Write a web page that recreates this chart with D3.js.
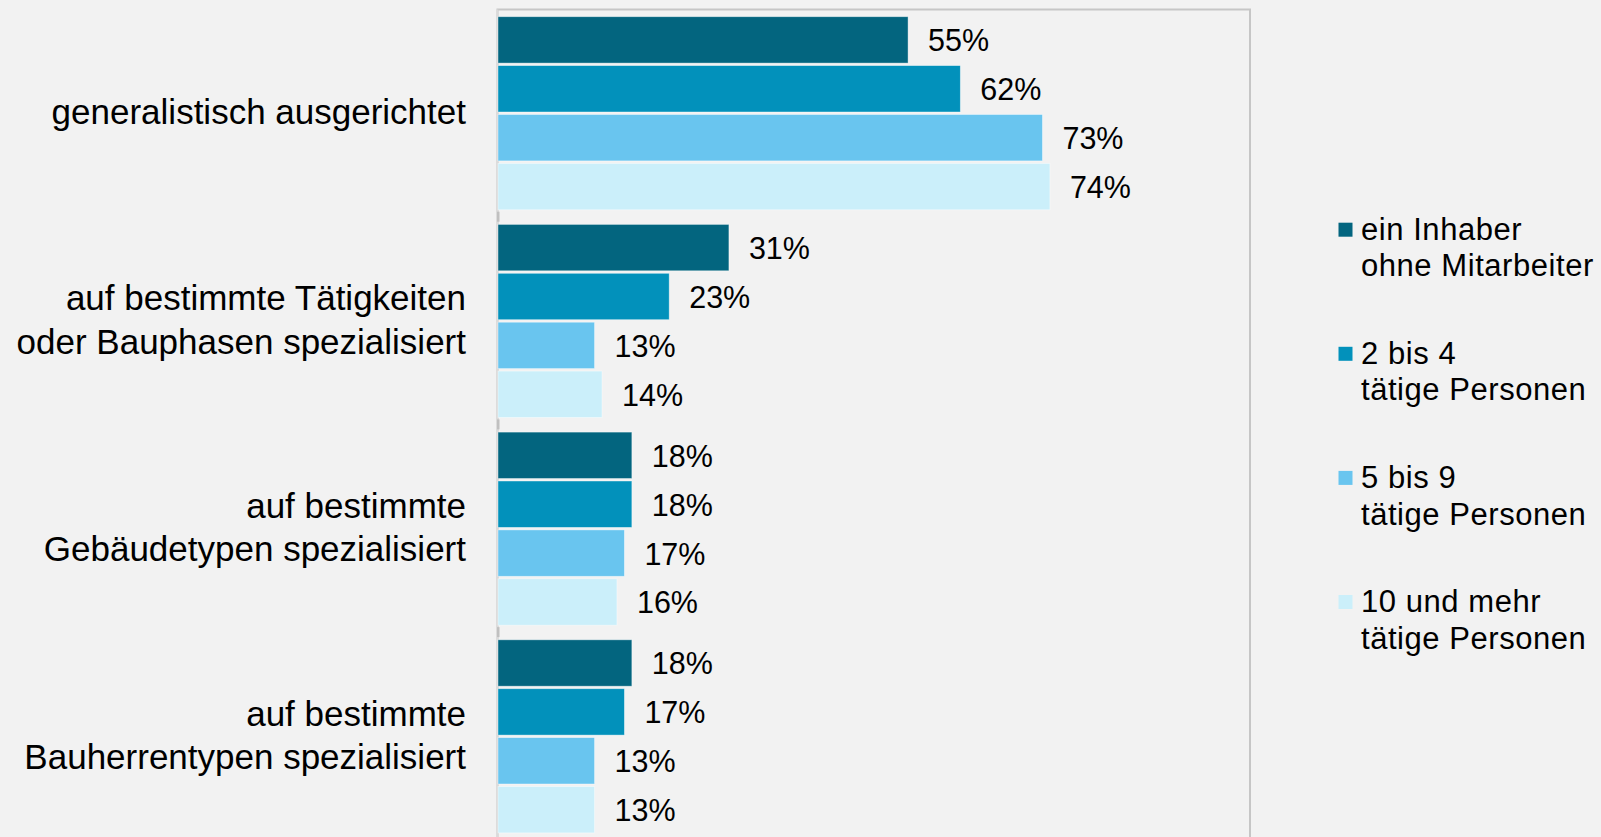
<!DOCTYPE html>
<html>
<head>
<meta charset="utf-8">
<script src="https://cdn.jsdelivr.net/npm/d3@7"></script>
<style>
  html, body { margin: 0; padding: 0; background: #f2f2f2; }
  svg { display: block; font-family: "Liberation Sans", Arial, sans-serif; }
</style>
</head>
<body>
<svg id="chart" width="1601" height="837"></svg>
<script>
// ---- data ----
const categories = [
  "generalistisch ausgerichtet",
  "auf bestimmte Tätigkeiten\noder Bauphasen spezialisiert",
  "auf bestimmte\nGebäudetypen spezialisiert",
  "auf bestimmte\nBauherrentypen spezialisiert"
];
const seriesNames = [
  "ein Inhaber\nohne Mitarbeiter",
  "2 bis 4\ntätige Personen",
  "5 bis 9\ntätige Personen",
  "10 und mehr\ntätige Personen"
];
const einInhaber   = [55, 31, 18, 18];
const zweiBisVier  = [62, 23, 18, 17];
const fuenfBisNeun = [73, 13, 17, 13];
const zehnUndMehr  = [74, 14, 16, 13];
const seriesValues = [einInhaber, zweiBisVier, fuenfBisNeun, zehnUndMehr];
const colors = ["#03657f", "#0291bb", "#69c5ef", "#cbeffa"];

// ---- layout ----
const svg = d3.select("#chart");
const plotLeft = 497.5, plotTop = 9.5, plotRight = 1250, plotBottom = 840;

const x = d3.scaleLinear().domain([0, 100]).range([plotLeft, 1244]);
const y0 = d3.scaleBand().domain(d3.range(categories.length)).range([9, 839.8]).paddingInner(0).paddingOuter(0);
const y1 = d3.scaleBand().domain(d3.range(seriesNames.length)).range([7.7, 200.8]).paddingInner(0.051).paddingOuter(0);

// plot frame
svg.append("rect")
  .attr("x", plotLeft).attr("y", plotTop)
  .attr("width", plotRight - plotLeft).attr("height", plotBottom - plotTop + 10)
  .attr("fill", "none").attr("stroke", "#c6c6c6").attr("stroke-width", 2);
// left axis line (lighter)
svg.append("line")
  .attr("x1", plotLeft).attr("x2", plotLeft)
  .attr("y1", plotTop).attr("y2", 837)
  .attr("stroke", "#dadada").attr("stroke-width", 1.5);

// axis tick marks at category boundaries
const boundaries = d3.range(1, categories.length).map(i => y0(i));
svg.selectAll("rect.tick").data(boundaries).join("rect")
  .attr("class", "tick")
  .attr("x", plotLeft - 0.5).attr("width", 2.5)
  .attr("y", d => d - 5).attr("height", 10)
  .attr("fill", "#c0c0c0");

// bars
const groups = svg.selectAll("g.cat").data(categories.map((c, i) => i)).join("g")
  .attr("class", "cat")
  .attr("transform", i => `translate(0,${y0(i)})`);

groups.each(function(ci) {
  const g = d3.select(this);
  const rows = seriesValues.map((arr, si) => ({ si, v: arr[ci] }));
  g.selectAll("rect.bar").data(rows).join("rect")
    .attr("class", "bar")
    .attr("x", x(0) + 0.5)
    .attr("y", d => y1(d.si))
    .attr("width", d => x(d.v) - x(0) - 0.5)
    .attr("height", y1.bandwidth())
    .attr("fill", d => colors[d.si])
    .attr("stroke", "#ffffff").attr("stroke-opacity", 0.5).attr("stroke-width", 0.8);
  g.selectAll("text.val").data(rows).join("text")
    .attr("class", "val")
    .attr("x", d => x(d.v) + 20)
    .attr("y", d => y1(d.si) + y1.bandwidth() / 2 + 11.5)
    .attr("font-size", 30.5)
    .attr("fill", "#000")
    .text(d => d.v + "%");
});

// category labels
categories.forEach((c, i) => {
  const lines = c.split("\n");
  const center = y0(i) + y0.bandwidth() / 2;
  const lh = 43.3;
  const t = svg.append("text")
    .attr("text-anchor", "end")
    .attr("font-size", 35)
    .attr("fill", "#000");
  lines.forEach((ln, k) => {
    t.append("tspan")
      .attr("x", 466)
      .attr("y", center + 11.5 + (k - (lines.length - 1) / 2) * lh)
      .text(ln);
  });
});

// legend
seriesNames.forEach((s, i) => {
  const base = 240 + i * 124.1;
  svg.append("rect")
    .attr("x", 1338.5).attr("y", base - 17.3)
    .attr("width", 14).attr("height", 14)
    .attr("fill", colors[i]);
  const t = svg.append("text").attr("font-size", 31).attr("letter-spacing", 0.55).attr("fill", "#000");
  s.split("\n").forEach((ln, k) => {
    t.append("tspan").attr("x", 1361).attr("y", base + k * 36.3).text(ln);
  });
});
</script>
</body>
</html>
